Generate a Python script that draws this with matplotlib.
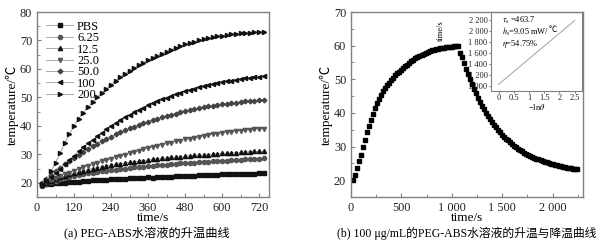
import numpy as np
import matplotlib

matplotlib.use('Agg')
import matplotlib.pyplot as plt
from matplotlib.ticker import MultipleLocator, FuncFormatter

plt.rcParams['font.family'] = ['Liberation Serif', 'Noto Sans CJK SC']
plt.rcParams['mathtext.fontset'] = 'stix'
plt.rcParams['axes.unicode_minus'] = True

# (a) heating curves, one reading every 15 s
t_a = np.arange(15, 736, 15)
labels_a = ['PBS', '6.25', '12.5', '25.0', '50.0', '100', '200']
pbs = [19.5, 19.6, 19.7, 19.8, 19.9, 20.0, 20.2, 20.3, 20.4, 20.5,
       20.6, 20.8, 20.9, 21.0, 21.1, 21.2, 21.3, 21.2, 21.4, 21.5,
       21.6, 21.6, 21.7, 21.9, 21.8, 21.9, 22.0, 22.1, 22.0, 22.2,
       22.3, 22.4, 22.3, 22.5, 22.6, 22.6, 22.7, 22.8, 22.7, 22.9,
       23.0, 23.0, 23.1, 23.1, 23.2, 23.2, 23.2, 23.3, 23.3]
c625 = [19.0, 19.6, 20.2, 20.7, 21.2, 21.6, 22.0, 22.4, 22.7, 23.0,
        23.3, 23.6, 23.8, 24.0, 24.2, 24.4, 24.6, 24.8, 25.0, 25.2,
        25.4, 25.5, 25.7, 25.8, 26.0, 26.1, 26.3, 26.4, 26.5, 26.7,
        26.8, 26.9, 27.0, 27.1, 27.2, 27.3, 27.4, 27.5, 27.6, 27.7,
        27.8, 27.9, 28.0, 28.1, 28.2, 28.3, 28.4, 28.5, 28.7]
c125 = [19.3, 20.0, 20.7, 21.3, 21.9, 22.4, 22.9, 23.4, 23.8, 24.2,
        24.6, 25.0, 25.3, 25.6, 25.9, 26.2, 26.5, 26.7, 27.0, 27.2,
        27.4, 27.6, 27.8, 28.0, 28.2, 28.4, 28.6, 28.7, 28.9, 29.0,
        29.2, 29.3, 29.5, 29.6, 29.7, 29.8, 29.9, 30.1, 30.2, 30.3,
        30.4, 30.5, 30.6, 30.7, 30.8, 30.9, 31.0, 31.0, 31.1]
c250 = [19.5, 20.3, 21.0, 21.7, 22.4, 23.0, 23.6, 24.2, 24.8, 25.4,
        26.0, 26.5, 27.0, 27.5, 28.0, 28.5, 29.0, 29.4, 29.9, 30.4,
        30.8, 31.3, 31.7, 32.2, 32.6, 33.0, 33.4, 33.8, 34.1, 34.5,
        34.8, 35.2, 35.5, 35.8, 36.1, 36.4, 36.7, 37.0, 37.2, 37.5,
        37.7, 37.9, 38.1, 38.3, 38.5, 38.6, 38.8, 38.9, 39.0]
c500 = [19.8, 21.3, 22.7, 24.0, 25.3, 26.5, 27.7, 28.8, 29.9, 30.9,
        31.9, 32.8, 33.7, 34.6, 35.4, 36.2, 37.0, 37.7, 38.4, 39.1,
        39.7, 40.3, 40.9, 41.5, 42.0, 42.5, 43.0, 43.5, 43.9, 44.3,
        44.7, 45.1, 45.5, 45.8, 46.2, 46.5, 46.8, 47.1, 47.3, 47.6,
        47.8, 48.0, 48.2, 48.4, 48.6, 48.8, 48.9, 49.1, 49.2]
c100 = [19.5, 20.5, 22.0, 23.5, 25.0, 26.5, 28.0, 29.5, 31.0, 32.4,
        33.8, 35.1, 36.4, 37.6, 38.8, 39.9, 41.0, 42.0, 43.0, 43.9,
        44.8, 45.6, 46.4, 47.2, 47.9, 48.6, 49.3, 49.9, 50.5, 51.1,
        51.6, 52.1, 52.6, 53.1, 53.5, 53.9, 54.3, 54.7, 55.0, 55.3,
        55.6, 55.9, 56.2, 56.5, 56.7, 56.9, 57.1, 57.3, 57.5]
c200 = [19.5, 21.0, 24.0, 27.0, 30.5, 34.0, 37.0, 40.0, 42.5, 44.5,
        46.5, 48.3, 50.0, 51.6, 53.1, 54.5, 55.8, 57.1, 58.2, 59.3,
        60.3, 61.3, 62.2, 63.1, 63.9, 64.7, 65.4, 66.1, 66.8, 67.4,
        68.0, 68.6, 69.1, 69.6, 70.0, 70.4, 70.8, 71.1, 71.4, 71.7,
        71.9, 72.1, 72.3, 72.5, 72.6, 72.7, 72.8, 72.9, 73.0]
series_a = [pbs, c625, c125, c250, c500, c100, c200]

# (b) 100 ug/mL heating then cooling, one reading every 20 s
heat_b = [20.0, 21.6, 23.6, 25.6, 27.6, 29.8, 32.0, 34.2, 36.2, 38.0,
          39.8, 41.4, 43.0, 44.2, 45.4, 46.4, 47.4, 48.2, 49.0, 49.8,
          50.5, 51.2, 51.8, 52.3, 52.8, 53.3, 53.8, 54.3, 54.8, 55.3,
          55.8, 56.2, 56.6, 57.0, 57.3, 57.6, 57.9, 58.2, 58.4, 58.6,
          58.8, 59.0, 59.1, 59.2, 59.3, 59.4, 59.5, 59.6, 59.6, 59.7,
          59.8, 59.9, 59.8]
cool_b = [57.8, 56.5, 54.8, 53.1, 51.5, 50.0, 48.5, 47.1, 45.8, 44.5,
          43.3, 42.2, 41.1, 40.1, 39.1, 38.2, 37.3, 36.5, 35.7, 34.9,
          34.2, 33.5, 32.9, 32.3, 31.8, 31.3, 30.8, 30.3, 29.8, 29.4,
          29.0, 28.6, 28.2, 27.9, 27.6, 27.3, 27.0, 26.7, 26.4, 26.2,
          25.9, 25.7, 25.5, 25.3, 25.1, 24.9, 24.7, 24.6, 24.4, 24.3,
          24.1, 24.0, 23.9, 23.7, 23.6, 23.5, 23.4, 23.3, 23.2]
temp_b = heat_b + cool_b
t_b = 20 + 20 * np.arange(len(temp_b))

# inset: -ln(theta) vs time fit
inset_x = [0.0, 2.5]
inset_y = [1030, 2190]

grey = '#808080'


def style_axes(ax):
    for sp in ax.spines.values():
        sp.set_color(grey)
        sp.set_linewidth(1.0)
    ax.tick_params(which='both', direction='in', colors='#222222',
                   labelsize=8.8, top=False, right=False)
    ax.tick_params(which='major', length=3, color=grey)
    ax.tick_params(which='minor', length=2, color=grey)


fig = plt.figure(figsize=(6.04, 2.45), dpi=100)

# ---- (a)
ax1 = fig.add_axes([0.0613, 0.196, 0.384, 0.755])
markers = ['s', 'o', '^', 'v', 'D', '<', '>']
mcolors = ['#111111', '#555555', '#111111', '#555555', '#444444', '#111111', '#111111']
msizes = [2.8, 3.0, 3.0, 3.0, 2.4, 3.0, 3.0]
for lab, y, m, c, s in zip(labels_a, series_a, markers, mcolors, msizes):
    ax1.plot(t_a, y, color='#999999', lw=0.6, marker=m, ms=s,
             mfc=c, mec=c, label=lab)
ax1.set_xlim(0, 752)
ax1.set_ylim(15, 80)
ax1.xaxis.set_major_locator(MultipleLocator(120))
ax1.xaxis.set_minor_locator(MultipleLocator(60))
ax1.yaxis.set_major_locator(MultipleLocator(10))
ax1.yaxis.set_minor_locator(MultipleLocator(5))
style_axes(ax1)
ax1.set_xlabel('time/s', fontsize=9.5, labelpad=-1)
ax1.set_ylabel('temperature/℃', fontsize=9.5, labelpad=1)
ax1.legend(loc='upper left', frameon=False, fontsize=9, handlelength=2.2,
           handletextpad=0.3, labelspacing=-0.05, borderaxespad=0.5,
           borderpad=0.2)

# ---- (b)
ax2 = fig.add_axes([0.581, 0.196, 0.384, 0.755], zorder=2)
ax2.patch.set_alpha(0)
ax2.plot(t_b, temp_b, ls='none', marker='s', ms=3.0, color='black')
ax2.set_xlim(0, 2300)
ax2.set_ylim(15, 70)
ax2.xaxis.set_major_locator(MultipleLocator(500))
ax2.xaxis.set_minor_locator(MultipleLocator(250))
ax2.yaxis.set_major_locator(MultipleLocator(10))
ax2.yaxis.set_minor_locator(MultipleLocator(5))
ax2.xaxis.set_major_formatter(FuncFormatter(
    lambda v, p: '{:,}'.format(int(v)).replace(',', ' ')))
style_axes(ax2)
ax2.set_xlabel('time/s', fontsize=9.5, labelpad=-1)
ax2.set_ylabel('temperature/℃', fontsize=9.5, labelpad=1)

# inset
ins = fig.add_axes([0.813, 0.629, 0.151, 0.322], zorder=1)
ins.plot(inset_x, inset_y, color='#aaaaaa', lw=0.8)
ins.set_xlim(-0.25, 2.75)
ins.set_ylim(910, 2345)
ins.xaxis.set_major_locator(MultipleLocator(0.5))
ins.yaxis.set_major_locator(MultipleLocator(200))
ins.xaxis.set_major_formatter(FuncFormatter(lambda v, p: '{:g}'.format(v)))
ins.yaxis.set_major_formatter(FuncFormatter(
    lambda v, p: '{:,}'.format(int(v)).replace(',', ' ')))
for sp in ins.spines.values():
    sp.set_color(grey)
    sp.set_linewidth(0.8)
ins.tick_params(direction='out', length=1.5, colors='#222222', labelsize=6,
                pad=1, color=grey)
ins.set_xlabel('−ln$\\theta$', fontsize=6, labelpad=0)
ins.text(-0.55, 0.9, 'time/s', rotation=90, fontsize=6, ha='center', va='top',
         transform=ins.transAxes)
ins.text(0.12, 0.97, r'$\tau_{\mathrm{s}}$ =463.7', fontsize=6, va='top',
         transform=ins.transAxes)
h_txt = ins.text(0.12, 0.82, r'$h_{\mathrm{s}}$=9.05 mW/', fontsize=6,
                 va='top', transform=ins.transAxes)
ins.annotate('℃', xy=(1, 1), xycoords=h_txt, ha='left', va='top', fontsize=6)
ins.text(0.12, 0.67, r'$\eta$=54.75%', fontsize=6, va='top',
         transform=ins.transAxes)

# captions
fig.text(0.2426, 0.046, '(a) PEG-ABS水溶液的升温曲线', ha='center', va='center',
         fontsize=8.8)
fig.text(0.772, 0.046, '(b) 100 μg/mL的PEG-ABS水溶液的升温与降温曲线',
         ha='center', va='center', fontsize=8.5)

fig.savefig('out.png', dpi=100)
